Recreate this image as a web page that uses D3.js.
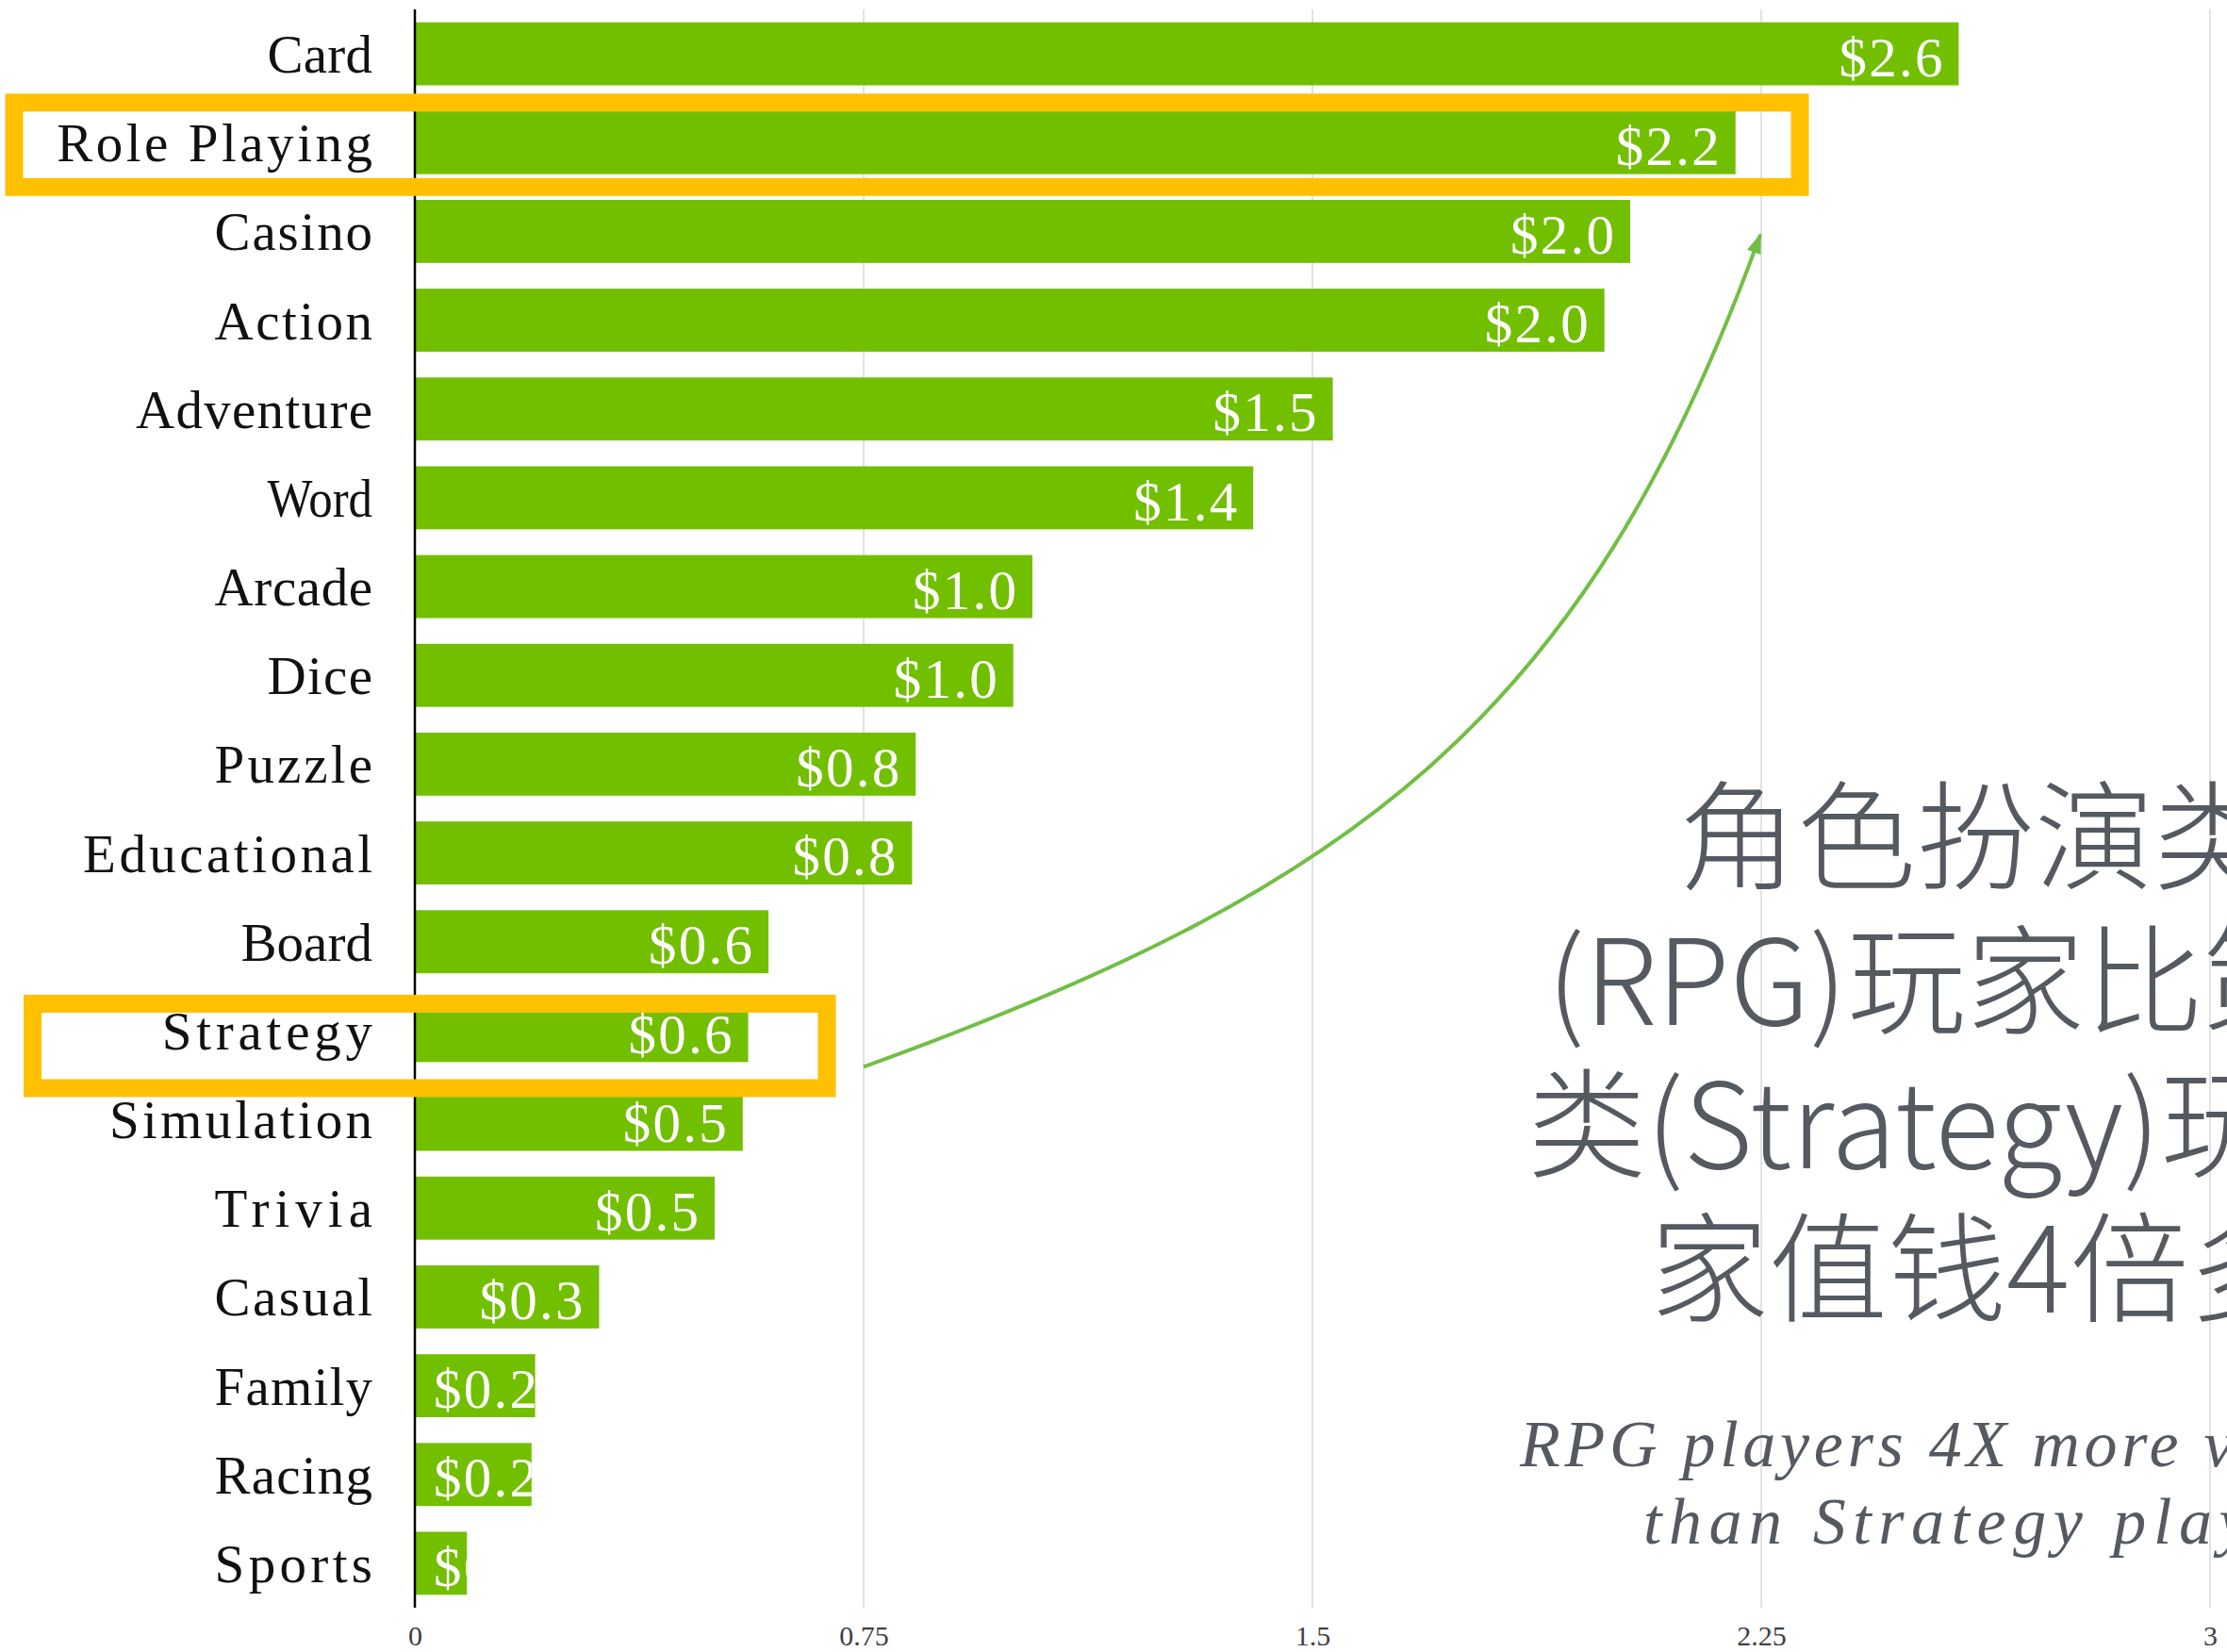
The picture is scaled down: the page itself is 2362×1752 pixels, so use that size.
<!DOCTYPE html>
<html>
<head>
<meta charset="utf-8">
<script src="https://cdn.jsdelivr.net/npm/d3@7"></script>
<style>
  body { margin: 0; background: #fff; }
  svg { display: block; }
</style>
</head>
<body>
<script>
// genre revenue per player
var categories = ["Card", "Role Playing", "Casino", "Action", "Adventure", "Word",
  "Arcade", "Dice", "Puzzle", "Educational", "Board", "Strategy", "Simulation",
  "Trivia", "Casual", "Family", "Racing", "Sports"];
var values = [2.58, 2.207, 2.031, 1.988, 1.534, 1.401, 1.032, 1.0, 0.837, 0.831,
  0.591, 0.557, 0.548, 0.501, 0.308, 0.201, 0.195, 0.087];
var tickValues = [0, 0.75, 1.5, 2.25, 3];
var tickLabels = ["0", "0.75", "1.5", "2.25", "3"];
var highlighted = ["Role Playing", "Strategy"];
var titleLines = ["角色扮演类", "(RPG)玩家比策略", "类(Strategy)玩", "家值钱4倍多"];
var subtitleLines = ["RPG players 4X more valuable", "than Strategy players"];

// squeeze or spread a label to a fixed width (the original font is half-width mono)
function fitWidth(sel, widthFn) {
  sel.each(function(d) {
    var target = widthFn(d);
    var natural = this.getComputedTextLength();
    d3.select(this)
      .attr("textLength", target)
      .attr("lengthAdjust", natural < target ? "spacing" : "spacingAndGlyphs");
  });
}

function myVis() {
  var w = 2362;
  var h = 1752;
  var green = "#72bf00";
  var gold = "#ffc000";
  var grey = "#545a60";

  var data = categories.map(function(c, i) { return {name: c, value: values[i]}; });

  var svg = d3.select("body")
    .append("svg")
    .attr("width", w)
    .attr("height", h);

  svg.append("rect").attr("width", w).attr("height", h).attr("fill", "#fff");

  var x = d3.scaleLinear().domain([0, 3]).range([440, 2344]);
  var y = d3.scaleBand().domain(categories).range([10, 1705])
    .paddingInner(0.29).paddingOuter(0.145);
  var bw = y.bandwidth();

  // gridlines
  svg.selectAll("line.grid")
    .data(tickValues.slice(1))
    .enter()
    .append("line")
    .attr("class", "grid")
    .attr("x1", d => x(d)).attr("x2", d => x(d))
    .attr("y1", 10).attr("y2", 1705)
    .attr("stroke", "#d9d9d9")
    .attr("stroke-width", 1.5);

  // x axis labels
  var xAxis = d3.axisBottom(x)
    .tickValues(tickValues)
    .tickFormat((d, i) => tickLabels[i])
    .tickSize(0)
    .tickPadding(0);
  var gx = svg.append("g").attr("transform", "translate(0,1745)").call(xAxis);
  gx.select(".domain").remove();
  gx.selectAll("text")
    .attr("y", 0).attr("dy", 0)
    .attr("font-family", "'Liberation Serif', serif")
    .attr("font-size", 30)
    .attr("fill", "#404040");

  // bars
  var defs = svg.append("defs");
  defs.selectAll("clipPath")
    .data(data)
    .enter()
    .append("clipPath")
    .attr("id", (d, i) => "clip" + i)
    .append("rect")
    .attr("x", x(0))
    .attr("y", d => y(d.name))
    .attr("width", d => x(d.value) - x(0))
    .attr("height", bw);

  svg.selectAll("rect.bar")
    .data(data)
    .enter()
    .append("rect")
    .attr("class", "bar")
    .attr("x", x(0))
    .attr("y", d => y(d.name))
    .attr("width", d => x(d.value) - x(0))
    .attr("height", bw)
    .attr("fill", green);

  // value labels, clipped to the bar
  var fmt = d3.format("$.1f");
  var lblW = 110;
  var vals = svg.selectAll("text.val")
    .data(data)
    .enter()
    .append("text")
    .attr("class", "val")
    .attr("clip-path", (d, i) => "url(#clip" + i + ")")
    .attr("x", d => Math.max(x(d.value) - 17, x(0) + 20 + lblW))
    .attr("y", d => y(d.name) + bw / 2)
    .attr("dy", "0.4em")
    .attr("text-anchor", "end")
    .attr("font-family", "'Liberation Serif', serif")
    .attr("font-size", 59)
    .attr("fill", "#fff")
    .text(d => fmt(d.value));
  fitWidth(vals, d => lblW);

  // category labels
  var cats = svg.selectAll("text.cat")
    .data(categories)
    .enter()
    .append("text")
    .attr("class", "cat")
    .attr("x", 395)
    .attr("y", d => y(d) + bw / 2)
    .attr("dy", "0.35em")
    .attr("text-anchor", "end")
    .attr("font-family", "'Liberation Serif', serif")
    .attr("font-size", 57)
    .attr("fill", "#111")
    .text(d => d);
  fitWidth(cats, d => d.length * 27.9);

  // y axis line
  svg.append("line")
    .attr("x1", x(0)).attr("x2", x(0))
    .attr("y1", 10).attr("y2", 1705)
    .attr("stroke", "#000")
    .attr("stroke-width", 2.5);

  // highlight boxes
  var boxes = [
    {x0: 15, x1: 1909, top: y(highlighted[0]) - 9},
    {x0: 34.5, x1: 877, top: y(highlighted[1]) + 5}
  ];
  svg.selectAll("rect.box")
    .data(boxes)
    .enter()
    .append("rect")
    .attr("class", "box")
    .attr("x", d => d.x0)
    .attr("y", d => d.top)
    .attr("width", d => d.x1 - d.x0)
    .attr("height", 89.5)
    .attr("fill", "none")
    .attr("stroke", gold)
    .attr("stroke-width", 19);

  // curved arrow from Strategy up to Role Playing
  defs.append("marker")
    .attr("id", "head")
    .attr("markerUnits", "userSpaceOnUse")
    .attr("viewBox", "0 0 20 14")
    .attr("refX", 18).attr("refY", 7)
    .attr("markerWidth", 22).attr("markerHeight", 16)
    .attr("orient", "auto")
    .append("path")
    .attr("d", "M0,0 L20,7 L0,14 Z")
    .attr("fill", "#71bf44");

  var p0 = [x(0.75), y("Strategy") + bw + 5];
  var p3 = [x(2.25) - 1, y("Casino") + 37];
  var path = d3.path();
  path.moveTo(p0[0], p0[1]);
  path.bezierCurveTo(p0[0] + 517, p0[1] - 187, p3[0] - 187, p3[1] + 517, p3[0], p3[1]);
  svg.append("path")
    .attr("d", path.toString())
    .attr("fill", "none")
    .attr("stroke", "#71bf44")
    .attr("stroke-width", 4)
    .attr("marker-end", "url(#head)");

  // annotation text (runs off the right edge like the original)
  var titleX = [1780, 1641, 1620, 1750];
  svg.selectAll("text.title")
    .data(titleLines)
    .enter()
    .append("text")
    .attr("class", "title")
    .attr("x", (d, i) => titleX[i])
    .attr("y", (d, i) => 934 + i * 152.5)
    .attr("font-family", "'Noto Sans CJK SC', sans-serif")
    .attr("font-weight", 300)
    .attr("font-size", 126)
    .attr("fill", grey)
    .text(d => d);

  var subX = [1612, 1743];
  svg.selectAll("text.sub")
    .data(subtitleLines)
    .enter()
    .append("text")
    .attr("class", "sub")
    .attr("x", (d, i) => subX[i])
    .attr("y", (d, i) => 1555 + i * 82)
    .attr("font-family", "'Liberation Serif', serif")
    .attr("font-style", "italic")
    .attr("font-size", 70)
    .attr("fill", grey)
    .attr("textLength", d => d.length * 35.7)
    .attr("lengthAdjust", "spacing")
    .text(d => d);
}

myVis();
</script>
</body>
</html>
